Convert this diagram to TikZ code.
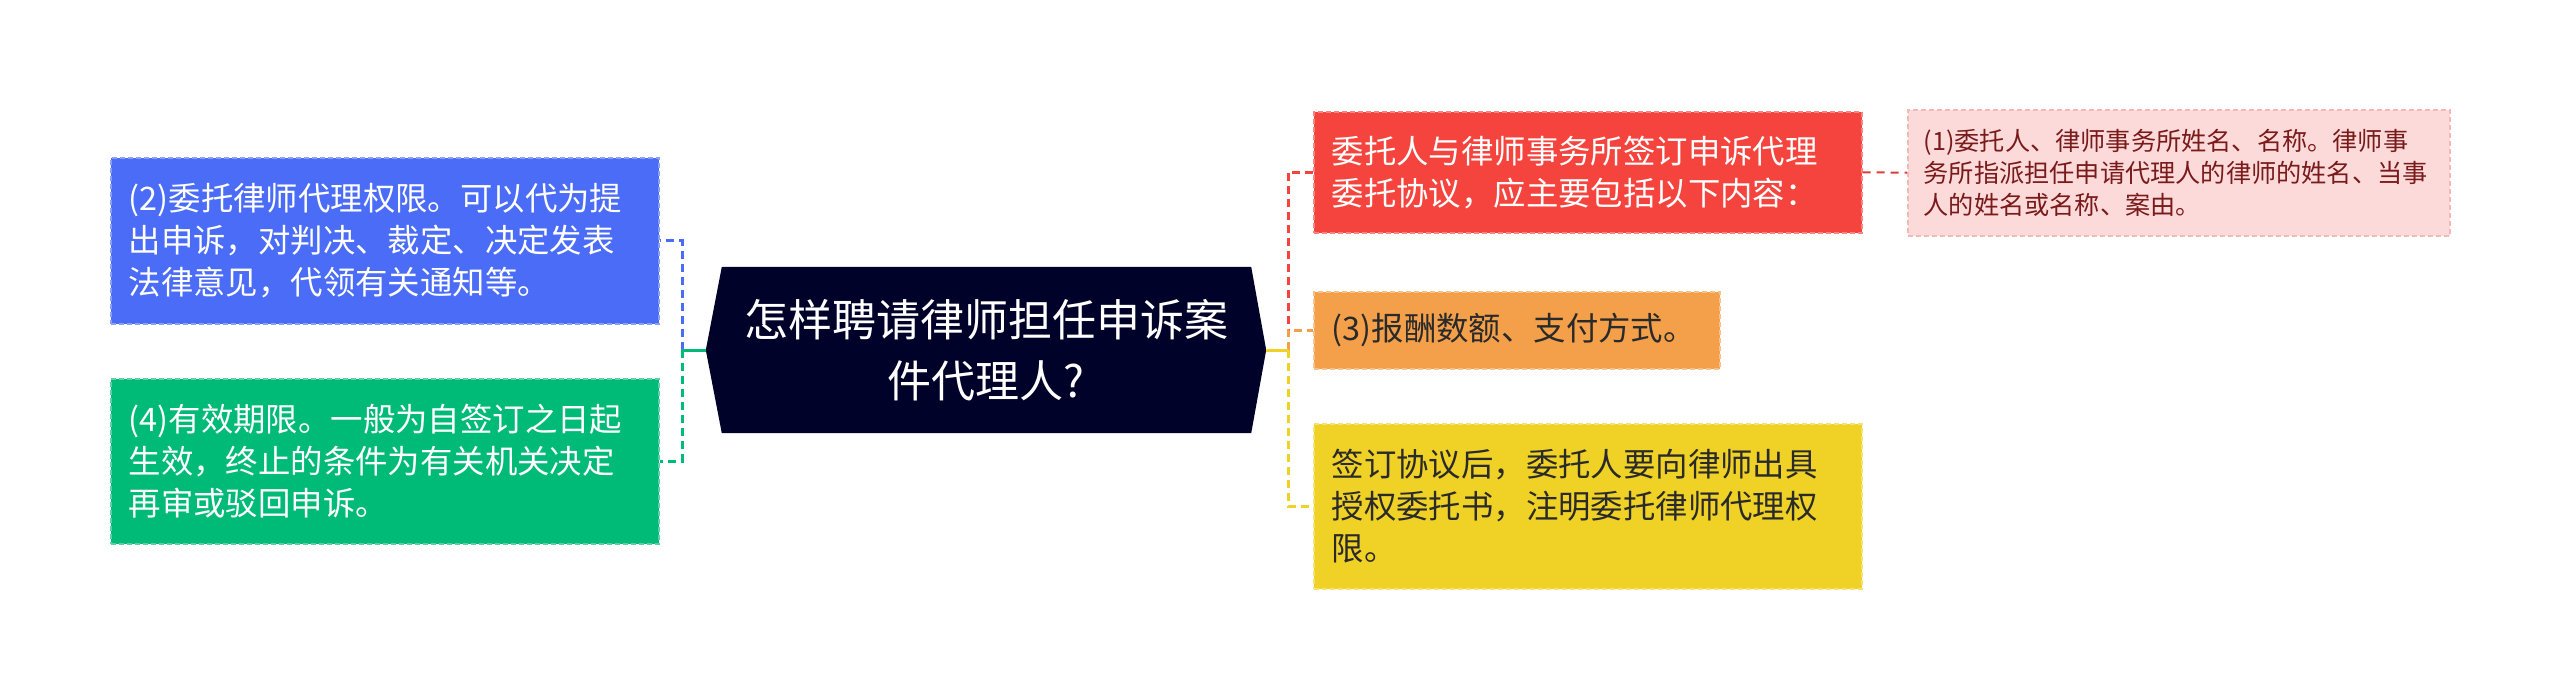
\documentclass[tikz,border=0pt]{standalone}
\usepackage{fontspec}
\setmainfont{Noto Sans CJK SC}
\usetikzlibrary{backgrounds}
\definecolor{hubc}{HTML}{000229}
\definecolor{bluec}{HTML}{4A6CF7}
\definecolor{greenc}{HTML}{00BA78}
\definecolor{redc}{HTML}{F5443D}
\definecolor{orangec}{HTML}{F4A04B}
\definecolor{yellowc}{HTML}{F0D226}
\definecolor{pinkc}{HTML}{FDDADA}
\definecolor{pinkline}{HTML}{F2B9B9}
\definecolor{pinktext}{HTML}{7A1B1B}
\definecolor{darktext}{HTML}{2A2A2A}
\tikzset{
  box/.style={rectangle, inner xsep=18pt, inner ysep=0pt, align=left,
    font=\fontsize{32.4}{42}\selectfont, dash pattern=on 5pt off 3pt,
    line width=1.5pt, anchor=north west},
  conn/.style={line width=3pt, dash pattern=on 8pt off 5pt},
  tick/.style={line width=3pt},
}
\begin{document}
\begin{tikzpicture}[x=1pt,y=-1pt]
\useasboundingbox (0,0) rectangle (2560,699);

\node[font=\fontsize{44}{61}\selectfont, text=white, align=center,
  minimum width=560pt, minimum height=166pt, inner sep=0pt] (hub) at (986,350)
  {怎样聘请律师担任申诉案\\件代理人?};
\begin{scope}[on background layer]
  \fill[white] (0,0) rectangle (2560,699);
  \fill[hubc] (hub.west) -- ([xshift=16pt]hub.north west) -- ([xshift=-15pt]hub.north east)
    -- (hub.east) -- ([xshift=-15pt]hub.south east) -- ([xshift=16pt]hub.south west) -- cycle;
\end{scope}

\node[box, fill=bluec, draw=bluec!65!white, text=white, minimum width=548pt,
  minimum height=166pt, text width=512pt] (blue) at (110,157)
  {(2)委托律师代理权限。可以代为提\\出申诉，对判决、裁定、决定发表\\法律意见，代领有关通知等。};
\node[box, fill=greenc, draw=greenc!65!white, text=white, minimum width=548pt,
  minimum height=165pt, text width=512pt] (green) at (110,378)
  {(4)有效期限。一般为自签订之日起\\生效，终止的条件为有关机关决定\\再审或驳回申诉。};
\node[box, fill=redc, draw=redc!65!white, text=white, minimum width=548pt,
  minimum height=121pt, text width=512pt] (red) at (1313,111)
  {委托人与律师事务所签订申诉代理\\委托协议，应主要包括以下内容：};
\node[box, fill=orangec, draw=orangec!65!white, text=darktext, minimum width=406pt,
  minimum height=77pt, text width=370pt] (orange) at (1313,291)
  {(3)报酬数额、支付方式。};
\node[box, fill=yellowc, draw=yellowc!65!white, text=darktext, minimum width=548pt,
  minimum height=165pt, text width=512pt] (yellow) at (1313,423)
  {签订协议后，委托人要向律师出具\\授权委托书，注明委托律师代理权\\限。};
\node[box, fill=pinkc, draw=pinkline, text=pinktext, font=\fontsize{25.2}{32}\selectfont,
  inner xsep=16pt, minimum width=542pt, minimum height=126pt, text width=510pt] (pink) at (1907,109)
  {(1)委托人、律师事务所姓名、名称。律师事\\务所指派担任申请代理人的律师的姓名、当事\\人的姓名或名称、案由。};

\coordinate (jl) at (682,350);
\coordinate (jr) at (1288,350);
\draw[conn, bluec] (jl) |- (blue.east);
\draw[conn, greenc] (jl) |- (green.east);
\draw[tick, greenc] (hub.west) -- (jl);
\draw[conn, redc] (jr) |- (red.west);
\draw[conn, orangec] (jr) |- (orange.west);
\draw[conn, yellowc] (jr) |- (yellow.west);
\draw[tick, yellowc] (hub.east) -- (jr);
\draw[line width=2pt, redc!90!black, dash pattern=on 8pt off 6pt] (red.east) -- (pink.west);
\end{tikzpicture}
\end{document}
